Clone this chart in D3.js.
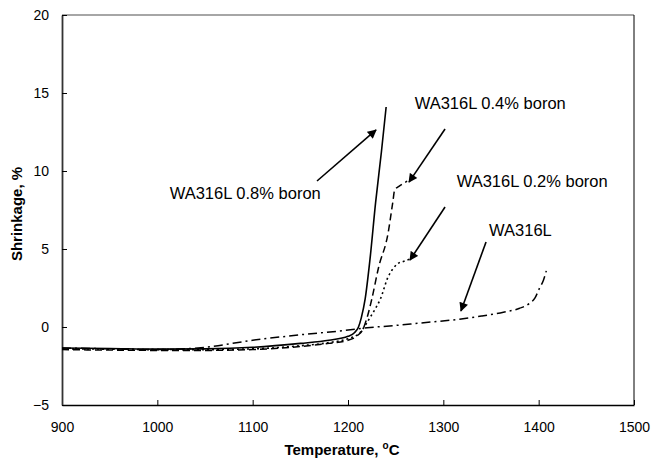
<!DOCTYPE html>
<html><head><meta charset="utf-8">
<script src="https://cdn.jsdelivr.net/npm/d3@7"></script>
<style>body{margin:0;background:#fff}svg{display:block}text{font-family:"Liberation Sans",Arial,sans-serif}</style>
</head><body><svg id="c" width="653" height="462"></svg>
<script>
const xTicks = [900,1000,1100,1200,1300,1400,1500];
const yTicks = [-5,0,5,10,15,20];

const tempB08 = [900,950,1000,1050,1100,1150,1180,1200,1207,1211,1214,1218,1223,1229,1235,1240];
const valB08  = [-1.35,-1.38,-1.42,-1.4,-1.3,-1.05,-0.85,-0.6,-0.35,0.0,0.6,1.8,4.3,8.0,11.2,14.1];

const tempB04 = [900,950,1000,1050,1100,1150,1180,1200,1210,1216,1220,1225,1232,1242,1247,1249,1253,1258,1262];
const valB04  = [-1.45,-1.48,-1.5,-1.5,-1.45,-1.25,-1.05,-0.85,-0.55,-0.1,0.6,1.8,3.8,6.0,8.0,8.8,9.0,9.2,9.35];

const tempB02 = [900,950,1000,1050,1100,1150,1180,1200,1212,1218,1223,1228,1234,1242,1248,1252,1258,1265];
const valB02  = [-1.4,-1.42,-1.45,-1.45,-1.4,-1.2,-1.0,-0.75,-0.4,0.1,0.6,1.1,1.8,3.2,3.8,4.05,4.2,4.35];

const tempBase = [900,950,1000,1050,1100,1150,1200,1220,1250,1275,1317,1340,1363,1380,1390,1396,1401,1405,1408];
const valBase  = [-1.35,-1.4,-1.45,-1.3,-0.85,-0.5,-0.2,-0.05,0.1,0.25,0.5,0.7,0.95,1.2,1.5,1.85,2.5,3.0,3.6];

const seriesNames = ["WA316L 0.8% boron","WA316L 0.4% boron","WA316L 0.2% boron","WA316L"];
// label anchor (data units) and arrow from/to (data units)
const labelT = [1013,1270,1314,1348];
const labelV = [8.2,13.97,8.97,5.83];
const arrowFromT = [1167.5,1301.8,1301.8,1344.8];
const arrowFromV = [9.36,12.69,7.69,5.45];
const arrowToT = [1229.4,1264,1265,1318.5];
const arrowToV = [12.63,9.29,4.29,1.03];

const svg = d3.select("#c");
const L=62,R=634,T=15,B=405;
const x = d3.scaleLinear().domain([900,1500]).range([L,R]);
const y = d3.scaleLinear().domain([-5,20]).range([B,T]);

// plot border
svg.append("line").attr("x1",L).attr("x2",R).attr("y1",T).attr("y2",T).attr("stroke","#888").attr("stroke-width",1.5);
svg.append("line").attr("x1",R).attr("x2",R).attr("y1",T).attr("y2",B).attr("stroke","#000").attr("stroke-width",1);

// axes
const gx = svg.append("g").attr("transform",`translate(0,${B})`)
  .call(d3.axisBottom(x).tickValues(xTicks).tickFormat(d3.format("d")).tickSizeInner(-5).tickSizeOuter(0).tickPadding(17));
gx.select(".domain").attr("stroke","#000").attr("stroke-width",1.5);
gx.selectAll("text").attr("font-size",14).attr("fill","#000").attr("font-family","Liberation Sans, Arial, sans-serif");
const gy = svg.append("g").attr("transform",`translate(${L},0)`)
  .call(d3.axisLeft(y).tickValues(yTicks).tickFormat(d3.format("d")).tickSizeInner(-5).tickSizeOuter(0).tickPadding(13));
gy.select(".domain").attr("stroke","#333").attr("stroke-width",1.8);
gy.selectAll("text").attr("font-size",14).attr("fill","#000").attr("font-family","Liberation Sans, Arial, sans-serif");

// axis titles
const xt = svg.append("text").attr("x",342).attr("y",455).attr("text-anchor","middle")
  .attr("font-size",15).attr("font-weight","bold");
xt.append("tspan").text("Temperature, ");
xt.append("tspan").text("o").attr("font-size",10).attr("dy",-6);
xt.append("tspan").text("C").attr("dy",6);
svg.append("text").attr("transform","translate(22,214) rotate(-90)").attr("text-anchor","middle")
  .attr("font-size",15).attr("font-weight","bold").text("Shrinkage, %");

// curves
const line = d3.line().x(d=>x(d[0])).y(d=>y(d[1])).curve(d3.curveMonotoneX);
const sets = [[tempB08,valB08,null,1.6],[tempB04,valB04,"7,4",1.5],[tempB02,valB02,"2,3",1.6],[tempBase,valBase,"9,4,2,4",1.5]];
sets.forEach(([ts,vs,dash,w])=>{
  const p = svg.append("path").datum(ts.map((t,i)=>[t,vs[i]])).attr("d",line)
    .attr("fill","none").attr("stroke","#000").attr("stroke-width",w);
  if(dash) p.attr("stroke-dasharray",dash);
});

// arrow marker
svg.append("defs").append("marker").attr("id","ah").attr("viewBox","0 0 10 10")
  .attr("refX",9).attr("refY",5).attr("markerWidth",10).attr("markerHeight",9)
  .attr("markerUnits","userSpaceOnUse").attr("orient","auto")
  .append("path").attr("d","M0,0 L10,5 L0,10 Z").attr("fill","#000");

seriesNames.forEach((n,i)=>{
  svg.append("line").attr("x1",x(arrowFromT[i])).attr("y1",y(arrowFromV[i]))
    .attr("x2",x(arrowToT[i])).attr("y2",y(arrowToV[i]))
    .attr("stroke","#000").attr("stroke-width",1.6).attr("marker-end","url(#ah)");
  svg.append("text").attr("x",x(labelT[i])).attr("y",y(labelV[i])).attr("font-size",16.5).text(n);
});
</script></body></html>
